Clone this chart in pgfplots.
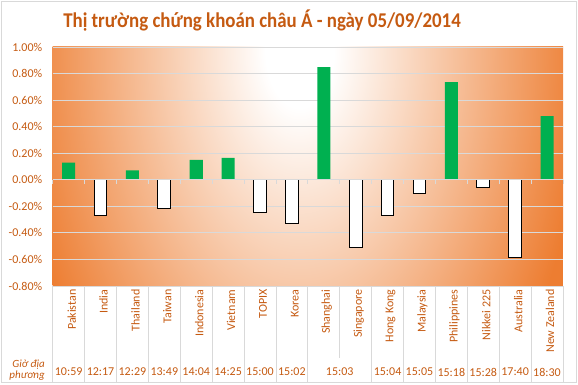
\documentclass[border=0pt]{standalone}
\usepackage{pgfplots}
\pgfplotsset{compat=1.18}
\usepackage{fontspec}
\setmainfont{Carlito}
\definecolor{xorange}{RGB}{237,125,49}
\definecolor{txtorange}{RGB}{197,90,17}
\definecolor{gridgray}{RGB}{217,217,217}
\definecolor{xgreen}{RGB}{0,176,80}
\pgfdeclareradialshading{bgshade}{\pgfpoint{0bp}{0bp}}{color(0bp)=(white); color(3bp)=(white); color(25bp)=(xorange); color(50bp)=(xorange)}
\begin{document}
\begin{tikzpicture}[x=1pt,y=1pt]
\path[use as bounding box] (0,0) rectangle (578,385);
\draw[gridgray, line width=0.8pt] (1.5,2.5) rectangle (576,383.5);
\node[anchor=base, text=txtorange, font=\fontsize{21}{25}\selectfont\bfseries] at (262,357) {\scalebox{0.9}[1]{Thị trường chứng khoán châu Á - ngày 05/09/2014}};
\begin{axis}[
  at={(52.7pt,99pt)}, anchor=south west,
  width=510.3pt, height=239pt, scale only axis,
  xmin=0, xmax=16, ymin=-0.8, ymax=1.0,
  axis background/.style={fill=xorange, path picture={\shade[shading=bgshade] ([xshift=247pt,yshift=-3pt]path picture bounding box.north west) ellipse (285pt and 480pt);}},
  axis line style={draw=none},
  major tick length=0pt,
  ytick={-0.8,-0.6,-0.4,-0.2,0,0.2,0.4,0.6,0.8,1},
  ymajorgrids, grid style={gridgray, line width=0.8pt},
  yticklabel={\pgfmathprintnumber{\tick}\%},
  yticklabel style={text=txtorange, font=\fontsize{12}{14}\selectfont, xshift=-7pt,
    /pgf/number format/.cd, fixed, fixed zerofill, precision=2, assume math mode=true},
  xtick={0.5,1.5,2.5,3.5,4.5,5.5,6.5,7.5,8.5,9.5,10.5,11.5,12.5,13.5,14.5,15.5},
  xticklabels={Pakistan,India,Thailand,Taiwan,Indonesia,Vietnam,TOPIX,Korea,Shanghai,Singapore,Hong Kong,Malaysia,Philippines,Nikkei 225,Australia,New Zealand},
  xticklabel style={rotate=90, anchor=east, text=txtorange, font=\fontsize{12}{14}\selectfont, yshift=-3pt},
  clip=false,
]
\addplot[ybar, bar width=0.41, bar shift=0, fill=xgreen, draw=none]
  coordinates {(0.5,0.13) (2.5,0.07) (4.5,0.15) (5.5,0.165) (8.5,0.848) (12.5,0.735) (15.5,0.48)};
\addplot[ybar, bar width=0.40, bar shift=0, fill=white, draw=black, line width=1pt]
  coordinates {(1.5,-0.27) (3.5,-0.22) (6.5,-0.25) (7.5,-0.33) (9.5,-0.51) (10.5,-0.27) (11.5,-0.10) (13.5,-0.055) (14.5,-0.587)};
\draw[gridgray, line width=1pt] (axis cs:0,0) -- (axis cs:16,0);
\pgfplotsinvokeforeach{0,...,16}{\draw[gridgray, line width=0.8pt] (axis cs:#1,0) -- ++(0pt,-4pt);}
\end{axis}
% category grid
\foreach \k in {0,1,2,3,4,5,6,7,8,10,11,12,13,14,15,16} {\draw[gridgray, line width=0.8pt] (52.7+\k*31.89,99) -- (52.7+\k*31.89,3);}
\draw[gridgray, line width=0.8pt] (52.7+9*31.89,99) -- (52.7+9*31.89,27);
\foreach \t [count=\i from 0] in {10:59,12:17,12:29,13:49,14:04,14:25,15:00,15:02} {\node[text=txtorange, font=\fontsize{12}{14}\selectfont] at (52.7+\i*31.89+15.95,13) {\t};}
\node[text=txtorange, font=\fontsize{12}{14}\selectfont] at (52.7+9*31.89,13) {15:03};
\foreach \t [count=\i from 10] in {15:04,15:05,15:18,15:28,17:40,18:30} {\node[text=txtorange, font=\fontsize{12}{14}\selectfont] at (52.7+\i*31.89+15.95,13) {\t};}
\node[anchor=east, align=right, text=txtorange, font=\fontsize{11}{11}\selectfont\itshape, inner sep=0pt] at (45,15) {Giờ địa\\phương};
\end{tikzpicture}
\end{document}
